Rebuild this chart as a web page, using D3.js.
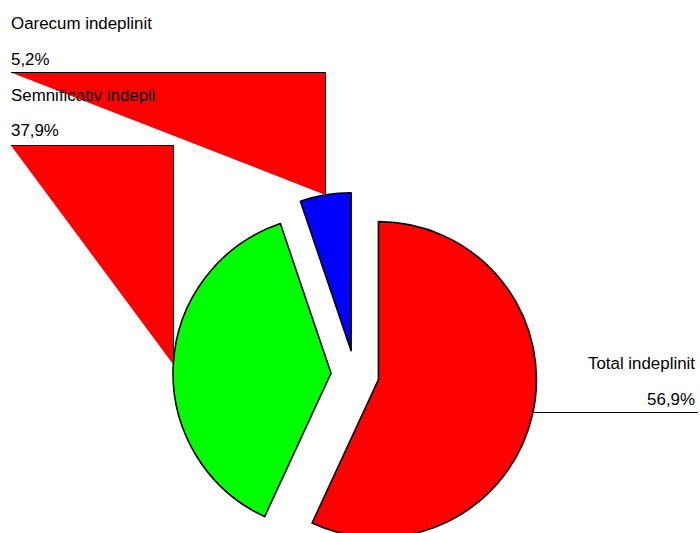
<!DOCTYPE html>
<html>
<head>
<meta charset="utf-8">
<script src="https://cdn.jsdelivr.net/npm/d3@7"></script>
<style>
  html, body { margin: 0; padding: 0; background: #fff; }
  svg { display: block; }
  text { font-family: "Liberation Sans", Arial, sans-serif; font-size: 16.9px; fill: #000; }
</style>
</head>
<body>
<svg id="chart" width="700" height="533"></svg>
<script>
const categories = ['Total indeplinit', 'Semnificativ indepli', 'Oarecum indeplinit'];
const values = [56.9, 37.9, 5.2];
const colors = ['#ff0000', '#00ff00', '#0000ff'];

// label placement: text x, name baseline, value baseline, leader y
const labelLayout = [
  { x: 695, anchor: 'end', nameY: 369, valueY: 405, lineY: 412.5, lineEnd: 698 },
  { x: 11, anchor: 'start', nameY: 101, valueY: 136, lineY: 145.5 },
  { x: 11, anchor: 'start', nameY: 29, valueY: 65, lineY: 72.5 }
];

const cx = 355, cy = 374.5;
const radius = 158;
const explode = 24;

const svg = d3.select('#chart');

const pie = d3.pie().sort(null).value(d => d);
const arcs = pie(values);

const arc = d3.arc().innerRadius(0).outerRadius(radius);

const g = svg.append('g').attr('transform', `translate(${cx},${cy})`);

function offset(d, r) {
  const a = (d.startAngle + d.endAngle) / 2;
  return [Math.sin(a) * r, -Math.cos(a) * r];
}

// leader lines (drawn first; the left ones come out filled like the original)
arcs.forEach((d, i) => {
  const L = labelLayout[i];
  const p = offset(d, radius + explode);
  const ax = Math.round(p[0] + cx) + 0.5, ay = p[1] + cy;
  let pts;
  if (L.anchor === 'end') {
    pts = [[L.lineEnd, L.lineY], [ax, L.lineY]];
  } else {
    pts = [[L.x, L.lineY], [ax, L.lineY], [ax, ay]];
    svg.append('path')
      .attr('d', 'M' + pts.map(q => q.join(',')).join('L') + 'Z')
      .attr('fill', '#ff0000')
      .attr('stroke', 'none');
  }
  svg.append('path')
    .attr('d', d3.line()(pts))
    .attr('fill', 'none')
    .attr('stroke', '#000')
    .attr('stroke-width', 1);
});

g.selectAll('path.slice')
  .data(arcs)
  .enter()
  .append('path')
  .attr('class', 'slice')
  .attr('transform', d => `translate(${offset(d, explode).join(',')})`)
  .attr('d', arc)
  .attr('fill', (d, i) => colors[i])
  .attr('stroke', '#000')
  .attr('stroke-width', 1.6)
  .attr('stroke-linejoin', 'round');

arcs.forEach((d, i) => {
  const L = labelLayout[i];
  svg.append('text')
    .attr('x', L.x)
    .attr('y', L.nameY)
    .attr('text-anchor', L.anchor)
    .text(categories[i]);
  svg.append('text')
    .attr('x', L.x)
    .attr('y', L.valueY)
    .attr('text-anchor', L.anchor)
    .text(d3.format('.1f')(values[i]).replace('.', ',') + '%');
});
</script>
</body>
</html>
